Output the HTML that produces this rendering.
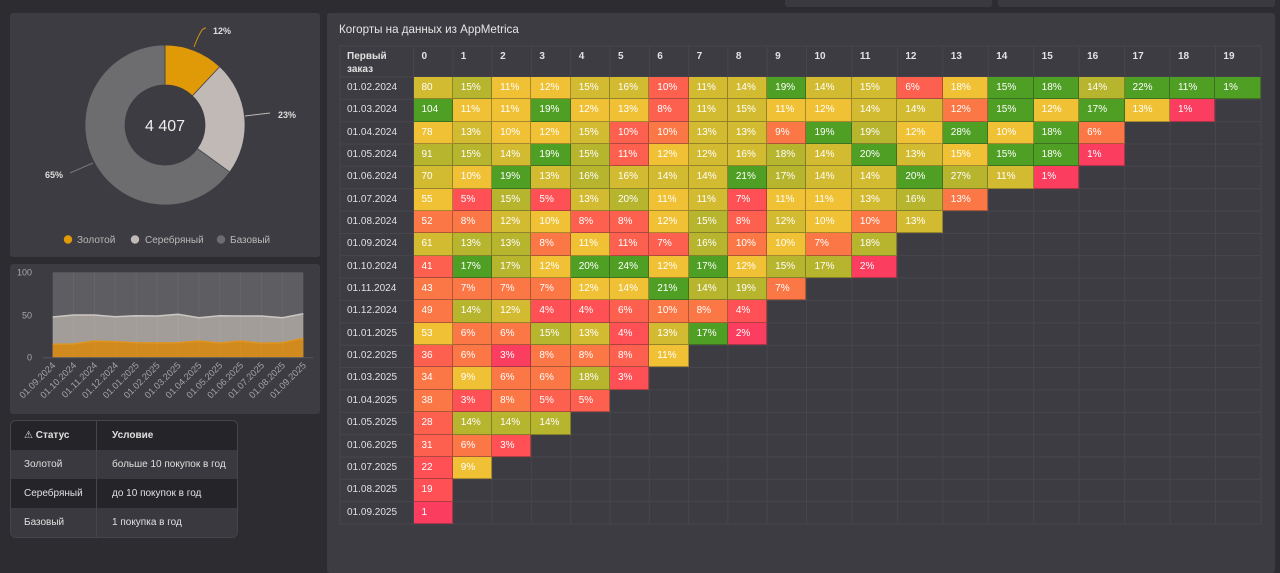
<!DOCTYPE html>
<html><head><meta charset="utf-8">
<style>
*{margin:0;padding:0;box-sizing:border-box}
body{width:1280px;height:550px;overflow:hidden;background:#2d2c31;font-family:"Liberation Sans","DejaVu Sans",sans-serif;position:relative}
.pn{position:absolute;background:#3d3c42;border-radius:3px}
svg.ov{position:absolute;left:0;top:0}
.title{position:absolute;left:339px;top:23px;font-size:11.6px;color:#e6e6e6;white-space:nowrap}
.hd{position:absolute;left:340px;top:46px;height:31px;display:flex;color:#e2e2e2;font-size:10px;font-weight:bold}
.hd div{flex-shrink:0;padding-left:8px;padding-top:4px;line-height:13px;width:39.3px}
.hd div:first-child{width:73.5px;padding-left:7px}
.hd div:nth-child(n+12){width:45.45px}
.hm{position:absolute;left:340px;top:77px}
.r{display:flex;height:22.35px}
.d{flex-shrink:0;width:73.5px;padding-left:7px;line-height:22.35px;font-size:10px;color:#e0e0e0}
.r i{font-style:normal;flex-shrink:0;width:39.3px;height:22.35px;line-height:22.35px;padding-left:8px;font-size:10px;color:#fff;box-shadow:inset -1px -1px 0 rgba(30,30,30,.35)}
.r i:nth-child(n+12){width:45.45px}
.g{background:#4f9f24}.o{background:#b7b42e}.y1{background:#d3bb31}.y{background:#f0c134}
.or{background:#fc7746}.rd{background:#fe6050}.rr{background:#ff5055}.p{background:#fb3d60}
table.st{position:absolute;left:10px;top:420px;width:228px;border-collapse:separate;border-spacing:0;border:1px solid #46454b;border-radius:6px;overflow:hidden;font-size:10px;color:#e0e0e0}
table.st td{height:29px;padding-left:13px;border-right:1px solid #46454b}
table.st td:last-child{border-right:none;padding-left:15px}
table.st tr.dk td{background:#252429}
table.st tr.lt td{background:#3a393f}
table.st tr.h td{font-weight:bold}
</style></head><body>
<div class="pn" style="left:785px;top:-10px;width:207px;height:17px;background:#3a393f"></div>
<div class="pn" style="left:998px;top:-10px;width:277px;height:17px;background:#3a393f"></div>
<div class="pn" style="left:10px;top:13px;width:310px;height:244px"></div>
<div class="pn" style="left:10px;top:264px;width:310px;height:150px"></div>
<div class="pn" style="left:327px;top:13px;width:948px;height:560px"></div>

<svg class="ov" width="1280" height="550" xmlns="http://www.w3.org/2000/svg">
<!-- donut -->
<path d="M165,45 A80,80 0 0 1 219.76,66.68 L192.38,95.84 A40,40 0 0 0 165,85 Z" fill="#e09a08" stroke="#3d3c42" stroke-width="0.7"/>
<path d="M219.76,66.68 A80,80 0 0 1 229.72,172.02 L197.36,148.51 A40,40 0 0 0 192.38,95.84 Z" fill="#c0b9b5" stroke="#3d3c42" stroke-width="0.7"/>
<path d="M229.72,172.02 A80,80 0 1 1 165,45 L165,85 A40,40 0 1 0 197.36,148.51 Z" fill="#6d6c6e" stroke="#3d3c42" stroke-width="0.7"/>
<text x="165" y="131" text-anchor="middle" font-size="16" fill="#eeeeee" font-family="Liberation Sans, sans-serif">4 407</text>
<path d="M194,47 Q198,36 202,30 Q204,28 206,28" fill="none" stroke="#d8960c" stroke-width="1"/>
<text x="213" y="34" font-size="9" font-weight="bold" fill="#dddddd" font-family="Liberation Sans, sans-serif">12%</text>
<path d="M245,116 L270,113" fill="none" stroke="#c0b9b5" stroke-width="1"/>
<text x="278" y="118" font-size="9" font-weight="bold" fill="#dddddd" font-family="Liberation Sans, sans-serif">23%</text>
<path d="M70,173 L93,163" fill="none" stroke="#77767a" stroke-width="1"/>
<text x="45" y="178" font-size="9" font-weight="bold" fill="#dddddd" font-family="Liberation Sans, sans-serif">65%</text>
<circle cx="68" cy="239.5" r="4.2" fill="#e09a08"/>
<text x="77" y="243" font-size="10" fill="#b9b9b9" font-family="Liberation Sans, sans-serif">Золотой</text>
<circle cx="135" cy="239.5" r="4.2" fill="#c0b9b5"/>
<text x="145" y="243" font-size="10" fill="#b9b9b9" font-family="Liberation Sans, sans-serif">Серебряный</text>
<circle cx="221" cy="239.5" r="4.2" fill="#6d6c6e"/>
<text x="230" y="243" font-size="10" fill="#b9b9b9" font-family="Liberation Sans, sans-serif">Базовый</text>

<!-- area chart -->
<rect x="52.7" y="272.3" width="250.6" height="85" fill="#5e5d61"/>
<polygon fill="#a39d9a" points="52.7,357.3 52.7,317 73.6,315 94.5,315 115.3,316.7 136.2,315.7 157.1,316 178,314.3 198.9,317.7 219.7,315.7 240.6,316 261.5,316 282.4,317.7 303.3,313.7 303.3,357.3"/>
<polygon fill="#d08a1e" points="52.7,357.3 52.7,344.3 73.6,344 94.5,341 115.3,341.7 136.2,342.7 157.1,343 178,342.7 198.9,341 219.7,343 240.6,341 261.5,343.3 282.4,342.7 303.3,338.3 303.3,357.3"/>
<g stroke="rgba(255,255,255,0.05)" stroke-width="1">
<line x1="73.6" y1="272" x2="73.6" y2="357"/><line x1="94.5" y1="272" x2="94.5" y2="357"/><line x1="115.3" y1="272" x2="115.3" y2="357"/><line x1="136.2" y1="272" x2="136.2" y2="357"/><line x1="157.1" y1="272" x2="157.1" y2="357"/><line x1="178" y1="272" x2="178" y2="357"/><line x1="198.9" y1="272" x2="198.9" y2="357"/><line x1="219.7" y1="272" x2="219.7" y2="357"/><line x1="240.6" y1="272" x2="240.6" y2="357"/><line x1="261.5" y1="272" x2="261.5" y2="357"/><line x1="282.4" y1="272" x2="282.4" y2="357"/>
</g>
<polyline fill="none" stroke="#cdc7c4" stroke-width="1.5" points="52.7,317 73.6,315 94.5,315 115.3,316.7 136.2,315.7 157.1,316 178,314.3 198.9,317.7 219.7,315.7 240.6,316 261.5,316 282.4,317.7 303.3,313.7"/>
<polyline fill="none" stroke="#df951f" stroke-width="1.5" points="52.7,344.3 73.6,344 94.5,341 115.3,341.7 136.2,342.7 157.1,343 178,342.7 198.9,341 219.7,343 240.6,341 261.5,343.3 282.4,342.7 303.3,338.3"/>
<line x1="43" y1="357.8" x2="313" y2="357.8" stroke="#56555a" stroke-width="1"/>
<g font-size="9" fill="#a8a8a8" font-family="Liberation Sans, sans-serif" text-anchor="end">
<text x="32" y="275.5">100</text><text x="32" y="318.5">50</text><text x="32" y="360.5">0</text>
</g>
<g font-size="9.3" fill="#a3a3a3" font-family="Liberation Sans, sans-serif" text-anchor="end">
<text transform="translate(56,366) rotate(-45)">01.09.2024</text>
<text transform="translate(76.9,366) rotate(-45)">01.10.2024</text>
<text transform="translate(97.8,366) rotate(-45)">01.11.2024</text>
<text transform="translate(118.6,366) rotate(-45)">01.12.2024</text>
<text transform="translate(139.5,366) rotate(-45)">01.01.2025</text>
<text transform="translate(160.4,366) rotate(-45)">01.02.2025</text>
<text transform="translate(181.3,366) rotate(-45)">01.03.2025</text>
<text transform="translate(202.2,366) rotate(-45)">01.04.2025</text>
<text transform="translate(223,366) rotate(-45)">01.05.2025</text>
<text transform="translate(243.9,366) rotate(-45)">01.06.2025</text>
<text transform="translate(264.8,366) rotate(-45)">01.07.2025</text>
<text transform="translate(285.7,366) rotate(-45)">01.08.2025</text>
<text transform="translate(306.6,366) rotate(-45)">01.09.2025</text>
</g>

<!-- heatmap grid -->
<g stroke="#47464c" stroke-width="1">
<line x1="340" y1="46" x2="340" y2="524"/><line x1="413.5" y1="46" x2="413.5" y2="524"/><line x1="452.8" y1="46" x2="452.8" y2="524"/><line x1="492.1" y1="46" x2="492.1" y2="524"/><line x1="531.4" y1="46" x2="531.4" y2="524"/><line x1="570.7" y1="46" x2="570.7" y2="524"/><line x1="610" y1="46" x2="610" y2="524"/><line x1="649.3" y1="46" x2="649.3" y2="524"/><line x1="688.6" y1="46" x2="688.6" y2="524"/><line x1="727.9" y1="46" x2="727.9" y2="524"/><line x1="767.2" y1="46" x2="767.2" y2="524"/><line x1="806.5" y1="46" x2="806.5" y2="524"/><line x1="851.95" y1="46" x2="851.95" y2="524"/><line x1="897.4" y1="46" x2="897.4" y2="524"/><line x1="942.85" y1="46" x2="942.85" y2="524"/><line x1="988.3" y1="46" x2="988.3" y2="524"/><line x1="1033.75" y1="46" x2="1033.75" y2="524"/><line x1="1079.2" y1="46" x2="1079.2" y2="524"/><line x1="1124.65" y1="46" x2="1124.65" y2="524"/><line x1="1170.1" y1="46" x2="1170.1" y2="524"/><line x1="1215.55" y1="46" x2="1215.55" y2="524"/><line x1="1261" y1="46" x2="1261" y2="524"/>
<line x1="340" y1="46" x2="1261" y2="46"/><line x1="340" y1="77" x2="1261" y2="77"/><line x1="340" y1="99.35" x2="1261" y2="99.35"/><line x1="340" y1="121.7" x2="1261" y2="121.7"/><line x1="340" y1="144.05" x2="1261" y2="144.05"/><line x1="340" y1="166.4" x2="1261" y2="166.4"/><line x1="340" y1="188.75" x2="1261" y2="188.75"/><line x1="340" y1="211.1" x2="1261" y2="211.1"/><line x1="340" y1="233.45" x2="1261" y2="233.45"/><line x1="340" y1="255.8" x2="1261" y2="255.8"/><line x1="340" y1="278.15" x2="1261" y2="278.15"/><line x1="340" y1="300.5" x2="1261" y2="300.5"/><line x1="340" y1="322.85" x2="1261" y2="322.85"/><line x1="340" y1="345.2" x2="1261" y2="345.2"/><line x1="340" y1="367.55" x2="1261" y2="367.55"/><line x1="340" y1="389.9" x2="1261" y2="389.9"/><line x1="340" y1="412.25" x2="1261" y2="412.25"/><line x1="340" y1="434.6" x2="1261" y2="434.6"/><line x1="340" y1="456.95" x2="1261" y2="456.95"/><line x1="340" y1="479.3" x2="1261" y2="479.3"/><line x1="340" y1="501.65" x2="1261" y2="501.65"/><line x1="340" y1="524" x2="1261" y2="524"/>
</g>
</svg>

<table class="st">
<tr class="dk h"><td style="width:86px">⚠ Статус</td><td>Условие</td></tr>
<tr class="lt"><td>Золотой</td><td>больше 10 покупок в год</td></tr>
<tr class="dk"><td>Серебряный</td><td>до 10 покупок в год</td></tr>
<tr class="lt"><td>Базовый</td><td>1 покупка в год</td></tr>
</table>

<div class="title">Когорты на данных из AppMetrica</div>
<div class="hd"><div>Первый<br>заказ</div><div>0</div><div>1</div><div>2</div><div>3</div><div>4</div><div>5</div><div>6</div><div>7</div><div>8</div><div>9</div><div>10</div><div>11</div><div>12</div><div>13</div><div>14</div><div>15</div><div>16</div><div>17</div><div>18</div><div>19</div></div>

<div class="hm">
<div class="r"><div class="d">01.02.2024</div><i class="y1">80</i><i class="o">15%</i><i class="y">11%</i><i class="y">12%</i><i class="y1">15%</i><i class="y1">16%</i><i class="rd">10%</i><i class="y1">11%</i><i class="y1">14%</i><i class="g">19%</i><i class="y1">14%</i><i class="y1">15%</i><i class="rd">6%</i><i class="y">18%</i><i class="g">15%</i><i class="g">18%</i><i class="o">14%</i><i class="g">22%</i><i class="g">11%</i><i class="g">1%</i></div>
<div class="r"><div class="d">01.03.2024</div><i class="g">104</i><i class="y">11%</i><i class="y">11%</i><i class="g">19%</i><i class="y">12%</i><i class="y">13%</i><i class="rd">8%</i><i class="y1">11%</i><i class="y1">15%</i><i class="y">11%</i><i class="y">12%</i><i class="y1">14%</i><i class="y1">14%</i><i class="or">12%</i><i class="g">15%</i><i class="y">12%</i><i class="g">17%</i><i class="y">13%</i><i class="p">1%</i></div>
<div class="r"><div class="d">01.04.2024</div><i class="y">78</i><i class="y1">13%</i><i class="y">10%</i><i class="y">12%</i><i class="y1">15%</i><i class="rd">10%</i><i class="or">10%</i><i class="y1">13%</i><i class="y1">13%</i><i class="or">9%</i><i class="g">19%</i><i class="o">19%</i><i class="y">12%</i><i class="g">28%</i><i class="y">10%</i><i class="g">18%</i><i class="or">6%</i></div>
<div class="r"><div class="d">01.05.2024</div><i class="o">91</i><i class="o">15%</i><i class="y1">14%</i><i class="g">19%</i><i class="o">15%</i><i class="rd">11%</i><i class="y">12%</i><i class="y1">12%</i><i class="y1">16%</i><i class="o">18%</i><i class="y1">14%</i><i class="g">20%</i><i class="y1">13%</i><i class="y">15%</i><i class="g">15%</i><i class="g">18%</i><i class="p">1%</i></div>
<div class="r"><div class="d">01.06.2024</div><i class="y1">70</i><i class="y">10%</i><i class="g">19%</i><i class="y1">13%</i><i class="o">16%</i><i class="y1">16%</i><i class="y1">14%</i><i class="y1">14%</i><i class="g">21%</i><i class="o">17%</i><i class="y1">14%</i><i class="y1">14%</i><i class="g">20%</i><i class="o">27%</i><i class="y1">11%</i><i class="p">1%</i></div>
<div class="r"><div class="d">01.07.2024</div><i class="y">55</i><i class="rr">5%</i><i class="o">15%</i><i class="rr">5%</i><i class="y1">13%</i><i class="o">20%</i><i class="y">11%</i><i class="y1">11%</i><i class="rr">7%</i><i class="y">11%</i><i class="y">11%</i><i class="y1">13%</i><i class="o">16%</i><i class="or">13%</i></div>
<div class="r"><div class="d">01.08.2024</div><i class="or">52</i><i class="or">8%</i><i class="y1">12%</i><i class="y">10%</i><i class="rd">8%</i><i class="rd">8%</i><i class="y">12%</i><i class="o">15%</i><i class="rd">8%</i><i class="y1">12%</i><i class="y">10%</i><i class="or">10%</i><i class="y1">13%</i></div>
<div class="r"><div class="d">01.09.2024</div><i class="y1">61</i><i class="o">13%</i><i class="o">13%</i><i class="or">8%</i><i class="y">11%</i><i class="rd">11%</i><i class="rd">7%</i><i class="o">16%</i><i class="or">10%</i><i class="y">10%</i><i class="or">7%</i><i class="o">18%</i></div>
<div class="r"><div class="d">01.10.2024</div><i class="rd">41</i><i class="g">17%</i><i class="o">17%</i><i class="y">12%</i><i class="g">20%</i><i class="g">24%</i><i class="y">12%</i><i class="g">17%</i><i class="y">12%</i><i class="o">15%</i><i class="o">17%</i><i class="p">2%</i></div>
<div class="r"><div class="d">01.11.2024</div><i class="or">43</i><i class="or">7%</i><i class="or">7%</i><i class="or">7%</i><i class="y">12%</i><i class="y">14%</i><i class="g">21%</i><i class="o">14%</i><i class="o">19%</i><i class="or">7%</i></div>
<div class="r"><div class="d">01.12.2024</div><i class="or">49</i><i class="o">14%</i><i class="y1">12%</i><i class="rr">4%</i><i class="rr">4%</i><i class="rd">6%</i><i class="or">10%</i><i class="or">8%</i><i class="rr">4%</i></div>
<div class="r"><div class="d">01.01.2025</div><i class="y">53</i><i class="or">6%</i><i class="or">6%</i><i class="o">15%</i><i class="y1">13%</i><i class="rr">4%</i><i class="y1">13%</i><i class="g">17%</i><i class="p">2%</i></div>
<div class="r"><div class="d">01.02.2025</div><i class="rd">36</i><i class="or">6%</i><i class="p">3%</i><i class="or">8%</i><i class="or">8%</i><i class="rd">8%</i><i class="y">11%</i></div>
<div class="r"><div class="d">01.03.2025</div><i class="or">34</i><i class="y">9%</i><i class="or">6%</i><i class="or">6%</i><i class="o">18%</i><i class="rr">3%</i></div>
<div class="r"><div class="d">01.04.2025</div><i class="or">38</i><i class="rr">3%</i><i class="or">8%</i><i class="rd">5%</i><i class="rd">5%</i></div>
<div class="r"><div class="d">01.05.2025</div><i class="rd">28</i><i class="o">14%</i><i class="o">14%</i><i class="o">14%</i></div>
<div class="r"><div class="d">01.06.2025</div><i class="rd">31</i><i class="or">6%</i><i class="rr">3%</i></div>
<div class="r"><div class="d">01.07.2025</div><i class="rr">22</i><i class="y">9%</i></div>
<div class="r"><div class="d">01.08.2025</div><i class="rr">19</i></div>
<div class="r"><div class="d">01.09.2025</div><i class="p">1</i></div>
</div>
</body></html>
